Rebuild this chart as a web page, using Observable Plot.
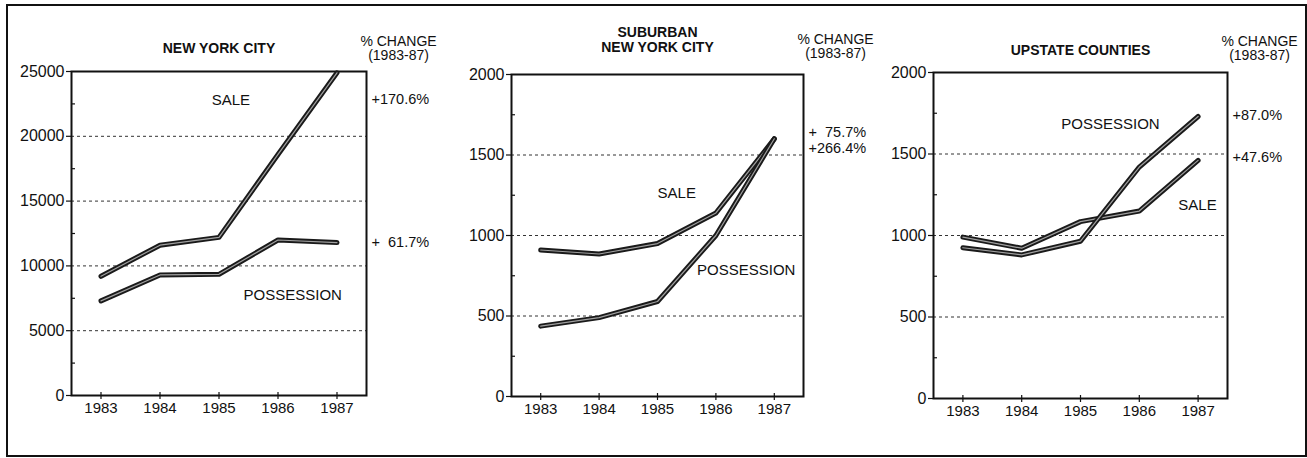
<!DOCTYPE html>
<html><head><meta charset="utf-8">
<script src="https://cdn.jsdelivr.net/npm/d3@7"></script>
<script src="https://cdn.jsdelivr.net/npm/@observablehq/plot@0.6"></script>
<style>
body{margin:0;background:#fff;}
#wrap{position:relative;width:1307px;height:458px;overflow:hidden;font-family:"Liberation Sans",Arial,sans-serif;background:#fff;}
#border{position:absolute;left:6px;top:4px;width:1301px;height:453px;border:2px solid #111;box-sizing:border-box;}
.panel{position:absolute;top:0;}
</style></head><body><div id="wrap"><div id="border"></div></div>
<script>
const years = [1983, 1984, 1985, 1986, 1987];
const nycSale = [9200, 11600, 12200, 18600, 24900];
const nycPossession = [7300, 9300, 9350, 12000, 11800];
const subSale = [910, 885, 950, 1140, 1600];
const subPossession = [437, 490, 590, 1000, 1601];
const upSale = [990, 922, 1085, 1150, 1461];
const upPossession = [925, 881, 965, 1420, 1730];

const nycTicks = [0, 5000, 10000, 15000, 20000, 25000];
const nycMinor = [2500, 7500, 12500, 17500, 22500];
const k2Ticks = [0, 500, 1000, 1500, 2000];
const k2Minor = [250, 750, 1250, 1750];

const titles = ["NEW YORK CITY", "SUBURBAN\nNEW YORK CITY", "UPSTATE COUNTIES"];
const changeHeader = "% CHANGE\n(1983-87)";
const nycChanges = [{text: "+170.6%", y: 22840}, {text: "+  61.7%", y: 11806}];
const subChanges = [{text: "+  75.7%", y: 1642}, {text: "+266.4%", y: 1542}];
const upChanges = [{text: "+87.0%", y: 1738}, {text: "+47.6%", y: 1479}];
const nycLabels = [{text: "SALE", x: 1985.2, y: 22760}, {text: "POSSESSION", x: 1986.25, y: 7716}];
const subLabels = [{text: "SALE", x: 1985.33, y: 1262}, {text: "POSSESSION", x: 1986.52, y: 783}];
const upLabels = [{text: "POSSESSION", x: 1985.51, y: 1682}, {text: "SALE", x: 1986.99, y: 1184}];

const xDomain = [1982.5, 1987.5];

const panels = [
  {left: 0, width: 430, mt: 71, mb: 63, ml: 71, mr: 64, titleDy: -19, chDy: -12,
   title: titles[0], ticks: nycTicks, minor: nycMinor, series: [nycSale, nycPossession], changes: nycChanges, labels: nycLabels},
  {left: 440, width: 430, mt: 74, mb: 62, ml: 71, mr: 67, titleDy: -23, chDy: -17,
   title: titles[1], ticks: k2Ticks, minor: k2Minor, series: [subSale, subPossession], changes: subChanges, labels: subLabels},
  {left: 862, width: 440, mt: 72, mb: 60, ml: 71, mr: 75, titleDy: -18, chDy: -13,
   title: titles[2], ticks: k2Ticks, minor: k2Minor, series: [upSale, upPossession], changes: upChanges, labels: upLabels}
];

const H = 458;
const wrap = document.getElementById("wrap");

for (const p of panels) {
  const fw = p.width - p.ml - p.mr;
  const fh = H - p.mt - p.mb;
  const yMax = p.ticks[p.ticks.length - 1];
  const grid = p.ticks.filter(t => t > 0 && t < yMax);
  const lineMarks = [];
  for (const s of p.series) {
    const data = years.map((yr, i) => ({x: yr, y: s[i]}));
    lineMarks.push(Plot.line(data, {x: "x", y: "y", stroke: "#1a1a1a", strokeWidth: 5, strokeLinejoin: "round", strokeLinecap: "round"}));
    lineMarks.push(Plot.line(data, {x: "x", y: "y", stroke: "#a0a0a0", strokeWidth: 1.2, strokeLinejoin: "round", strokeLinecap: "round"}));
  }
  const chart = Plot.plot({
    width: p.width,
    height: H,
    marginTop: p.mt, marginBottom: p.mb, marginLeft: p.ml, marginRight: p.mr,
    style: {fontSize: "15px", fontFamily: "'Liberation Sans', Arial, sans-serif", color: "#111", background: "transparent", overflow: "visible"},
    x: {domain: xDomain, label: null},
    y: {domain: [0, yMax], label: null},
    marks: [
      Plot.ruleY(grid, {stroke: "#333", strokeWidth: 1, strokeDasharray: "3,3"}),
      Plot.tickY(p.minor, {y: d => d, insetRight: fw - 4, stroke: "#111", strokeWidth: 1.2}),
      Plot.tickX(years, {x: d => d, insetTop: fh - 3, stroke: "#111", strokeWidth: 1.2}),
      Plot.axisY({ticks: p.ticks, tickSize: 5, tickPadding: 2, tickFormat: d => String(d), label: null, strokeWidth: 1.2, fontSize: 16}),
      Plot.axisX({ticks: years, tickSize: 4, tickPadding: 3, tickFormat: d => String(d), label: null, strokeWidth: 1.2, fontSize: 15}),
      Plot.frame({stroke: "#111", strokeWidth: 2}),
      ...lineMarks,
      Plot.text(p.labels, {x: "x", y: "y", text: "text", fontSize: 15, fill: "#111"}),
      Plot.text(p.changes, {x: () => xDomain[1], y: "y", text: "text", dx: 5, textAnchor: "start", fontSize: 14.5, fill: "#111"}),
      Plot.text([p.title], {frameAnchor: "top", text: d => d, lineAnchor: "bottom", dy: p.titleDy, fontWeight: "bold", fontSize: 14, fill: "#111", lineHeight: 1.05}),
      Plot.text([changeHeader], {x: () => xDomain[1], frameAnchor: "top", text: d => d, lineAnchor: "bottom", dx: 32, dy: p.chDy, fontSize: 14, fill: "#111", lineHeight: 1.0})
    ]
  });
  chart.classList.add("panel");
  chart.style.left = p.left + "px";
  wrap.appendChild(chart);
}
</script></body></html>
